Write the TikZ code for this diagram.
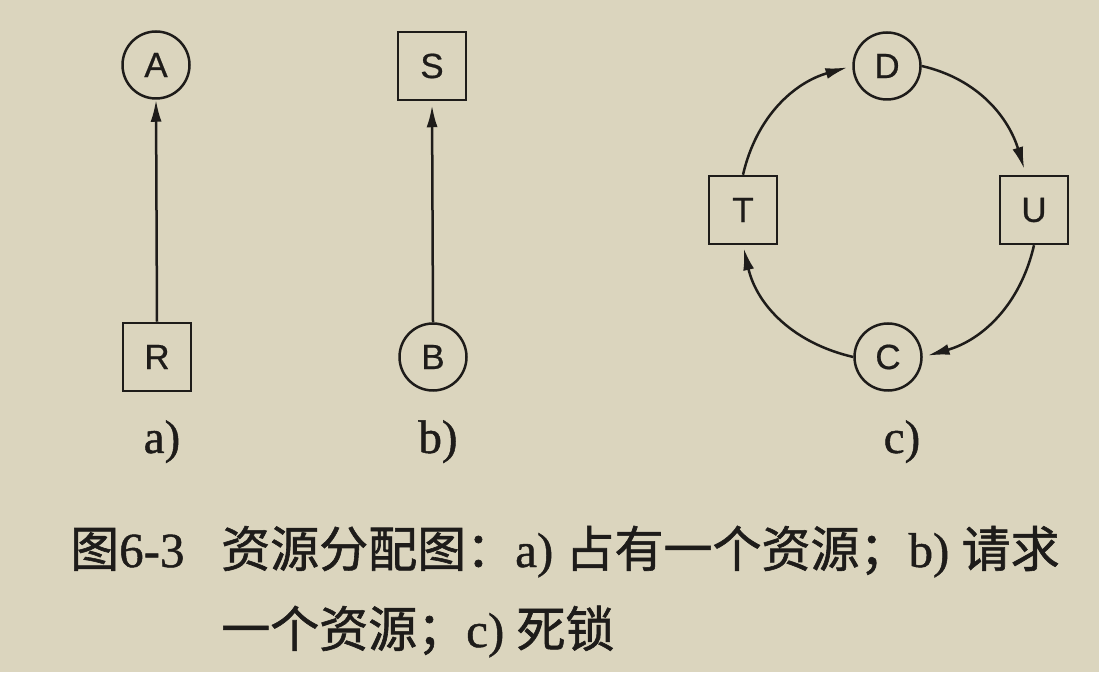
\documentclass[tikz,border=0pt]{standalone}
\usepackage{fontspec}
\setmainfont{Liberation Serif}
\newfontfamily\cjk[FakeBold=1.2]{Noto Sans CJK SC}
\newfontfamily\latfont[FakeBold=1.0]{Liberation Serif}
\newfontfamily\nodefont[FakeBold=0.6]{Liberation Sans}
\usetikzlibrary{arrows.meta}
\definecolor{paper}{RGB}{219,213,190}
\definecolor{ink}{RGB}{30,28,26}
\begin{document}
\begin{tikzpicture}[x=1pt,y=1pt,
  proc/.style={circle,draw=ink,line width=2.5pt,minimum size=67pt,inner sep=0pt,
    font=\nodefont\fontsize{35}{35}\selectfont,text=ink},
  res/.style={rectangle,draw=ink,line width=2.5pt,minimum size=68pt,inner sep=0pt,
    font=\nodefont\fontsize{35}{35}\selectfont,text=ink},
  conn/.style={draw=ink,line width=2.5pt,-{Latex[length=22pt,width=11pt]}},
  lab/.style={font=\latfont\fontsize{47}{47}\selectfont,text=ink,anchor=base,inner sep=0pt},
  captext/.style={font=\latfont\fontsize{49}{49}\selectfont,text=ink,anchor=base west,inner sep=0pt}]
\fill[paper] (0,0) rectangle (1099,672);
\useasboundingbox (0,0) rectangle (1099,672);
% panel a
\node[proc] (A) at (156,607) {A};
\node[res]  (R) at (157,315) {R};
\draw[conn] (R.north) -- (A.south);
\node[lab] (la) at (162,219) {a)};
% panel b
\node[res]  (S) at (432,606) {S};
\node[proc] (B) at (433,315) {B};
\draw[conn,shorten >=4pt] (B.north) -- (S.south);
\node[lab] (lb) at (438,219) {b)};
% panel c
\node[proc] (D) at (887,606) {D};
\node[res]  (T) at (743,462) {T};
\node[res]  (U) at (1034,462) {U};
\node[proc] (C) at (888,315) {C};
\draw[conn,shorten >=5pt] (T.north) to[out=77,in=196] (D.west);
\draw[conn,shorten >=6pt] (D.east) to[out=-13,in=107] ([xshift=-8pt]U.north);
\draw[conn,shorten >=5pt] (U.south) to[out=-103,in=16] (C.east);
\draw[conn,shorten >=3pt] (C.west) to[out=167,in=-77] (T.south);
\node[lab] (lc) at (902,219) {c)};
% caption
\node[captext] (cap1) at (70,105) {{\cjk 图}6-3};
\node[captext] (cap2) at (221,105) {{\cjk 资源分配图：}a) {\cjk 占有一个资源；}b) {\cjk 请求}};
\node[captext] (cap3) at (221,25) {{\cjk 一个资源；}c) {\cjk 死锁}};
\end{tikzpicture}
\end{document}
